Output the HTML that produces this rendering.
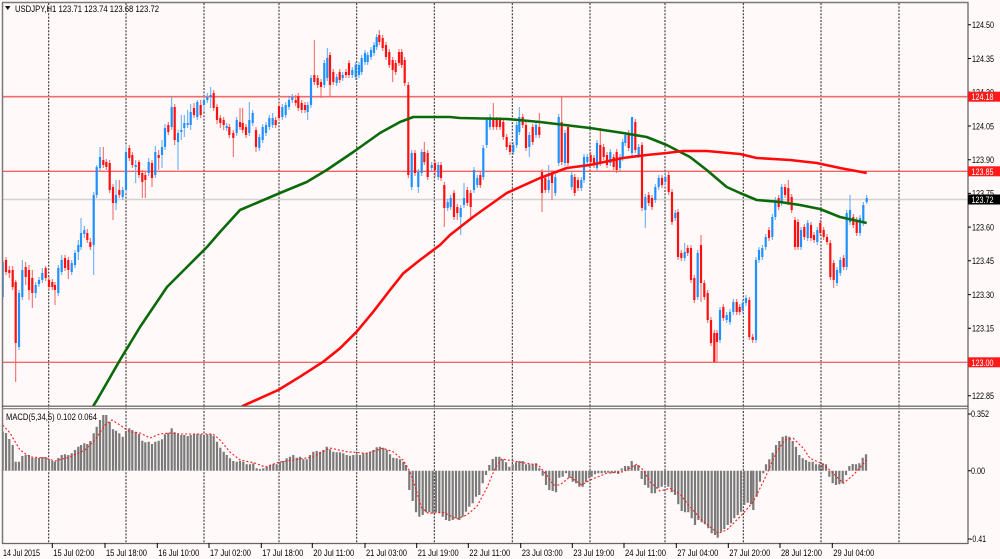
<!DOCTYPE html>
<html><head><meta charset="utf-8"><style>
html,body{margin:0;padding:0;background:#FFF9F9;}
svg{display:block;}
text{font-family:"Liberation Sans",sans-serif;font-size:9px;fill:#000;}
</style></head><body>
<svg width="1000" height="559" viewBox="0 0 1000 559" xmlns="http://www.w3.org/2000/svg">
<defs>
<clipPath id="cm"><rect x="3" y="3" width="965" height="403"/></clipPath>
<clipPath id="cs"><rect x="3" y="409" width="965" height="134"/></clipPath>
</defs>
<rect x="0" y="0" width="1000" height="559" fill="#FFF9F9"/>

<!-- grid dotted verticals -->
<g stroke="#222" stroke-width="1" stroke-dasharray="2,1.4">
<path d="M48.7 3V543 M126 3V543 M204 3V543 M279 3V543 M356.7 3V543 M434.3 3V543 M512.3 3V543 M590 3V543 M665 3V543 M743.3 3V543 M821 3V543 M899 3V543"/>
</g>

<!-- horizontal level lines -->
<path d="M3 96.7H968" stroke="#f26a6a" stroke-width="1.6"/>
<path d="M3 171.3H968" stroke="#ff2a2a" stroke-width="1"/>
<path d="M3 199.5H968" stroke="#d2d2d2" stroke-width="1.6"/>
<path d="M3 362.3H968" stroke="#f26a6a" stroke-width="1.3"/>

<g clip-path="url(#cm)" fill="none">
<!-- blue wicks -->
<path stroke="#5aa9f2" stroke-width="1" d="M2.7 257V300 M19 290V350 M22.3 260V300 M35.7 282V298 M39 277V287 M42.3 268V283 M58.3 265V296 M61.7 255V275 M71.7 260V275 M75 250V268 M78.3 240V260 M81 218V250 M84.3 226V238 M93.7 192V275 M96.7 165V198 M100 147V171 M116 180V210 M122.7 187V200 M126 146V193 M135.7 160V183 M148.7 158V176 M155.3 146V178 M162 140V168 M165 124V150 M171.7 97V130 M178 130V170 M181.3 115V140 M184.3 115V137 M187.7 110V128 M190.7 104V130 M197.3 100V120 M204 97V112 M207.3 93V103 M210.7 87V108 M226.7 123V131 M236.7 117V136 M249.3 102V136 M252.7 110V126 M259.3 134V151 M262.7 124V143 M266 122V136 M269.3 115V130 M272.7 113V128 M282.3 104V120 M285.7 102V118 M289 97V110 M292.3 94V103 M307.7 102V120 M311 75V108 M324.3 60V88 M327.3 48V81 M336.7 74V86 M342.7 72V81 M352.3 67V78 M355.7 62V80 M359 62V78 M361.7 55V75 M365 50V65 M367.7 52V65 M371 47V60 M374 42V56 M376.7 34V50 M411.7 150V190 M418.3 169V193 M421.7 149V176 M431.7 162V171 M438.3 162V180 M447.7 199V211 M450.7 195V210 M460.7 205V235 M464 183V208 M474 167V193 M477.3 175V188 M483.3 145V180 M486.7 117V148 M490 114V130 M513.3 142V155 M516.7 122V148 M519.3 107V135 M529.3 132V157 M536 122V138 M548.7 165V193 M555.3 174V196 M558.7 114V166 M565 130V166 M571.7 172V190 M581.3 177V191 M584 154V183 M587.3 154V165 M597 140V171 M610.3 149V166 M620 154V171 M622.7 139V161 M625.3 132V146 M632 117V156 M638.7 144V158 M645.3 194V228 M655.3 184V203 M658.7 175V190 M665.3 172V185 M675.3 210V221 M684.7 243V261 M697.7 250V300 M720 307V343 M726.7 312V323 M730 309V325 M733.3 299V315 M742.7 300V313 M746 295V306 M756 257V343 M759 247V263 M762.3 245V260 M765.7 234V250 M772.3 214V240 M775.3 197V220 M781.7 184V206 M801 227V250 M807.7 220V241 M817.3 227V245 M837 267V286 M840.3 257V276 M846.7 210V270 M850 195V225 M860 215V236 M863.3 202V226 M866.7 195V204"/>
<!-- red wicks -->
<path stroke="#f56060" stroke-width="1" d="M6 257V275 M9.3 266V278 M12.7 266V290 M15.7 280V382 M25.7 262V285 M29 265V300 M32.3 270V308 M45.7 266V281 M49 277V290 M52.3 279V290 M55 282V305 M65 255V271 M68.3 257V279 M87.3 229V243 M90.3 238V250 M103.3 147V168 M106.3 159V170 M109.7 160V193 M113 184V220 M119.3 180V198 M129.3 145V161 M132.3 152V168 M139 160V178 M142.3 170V198 M145.3 172V198 M152 160V187 M158.7 150V170 M168.3 122V135 M174.7 104V145 M194 103V118 M200.7 100V118 M213.7 90V111 M217 104V124 M220.3 115V128 M223.7 117V130 M229.3 124V138 M233.3 130V157 M240 108V130 M242.7 108V133 M246 124V138 M256 127V152 M275.7 117V128 M279 103V121 M295.7 95V106 M298.3 93V111 M301.7 100V113 M305 102V113 M314.3 40V85 M317.7 75V88 M321 79V98 M330 52V97 M333.3 69V85 M339.7 69V83 M346 69V78 M349 60V78 M379.3 30V45 M382.7 35V51 M386 42V60 M389.3 49V68 M392.7 57V82 M395.7 60V75 M399 49V66 M401.7 49V68 M404.7 57V86 M408.3 82V178 M415 150V176 M424.3 142V165 M427.7 150V180 M435 160V177 M441 162V181 M444.3 182V227 M454 190V220 M457.3 204V220 M467.3 187V206 M470.7 190V218 M480.3 172V188 M493.3 103V130 M496.7 117V130 M500 117V130 M503.3 119V140 M506.7 134V150 M510 142V155 M522.7 114V128 M526 122V151 M532.7 124V145 M539.3 113V138 M542 169V212 M545.3 175V193 M552 170V200 M561.7 97V165 M568 124V166 M574.7 174V196 M578 177V191 M590.7 152V165 M594 155V168 M600.3 128V166 M603.7 144V160 M607 152V168 M613.7 154V170 M616.7 149V173 M628.7 130V151 M635.3 119V153 M642 142V211 M648.7 192V206 M652 195V210 M662 175V188 M668.7 172V195 M672 189V225 M678 209V260 M681.3 250V261 M687.7 245V256 M691 245V283 M694.3 275V303 M701 235V302 M704.3 280V300 M707.7 290V323 M711 317V346 M714.3 330V362 M717 330V362 M723.3 304V321 M736.7 299V315 M739.7 304V315 M749.3 297V340 M752.7 334V343 M769 227V241 M778.7 195V210 M785 184V198 M788.3 180V205 M791.7 194V213 M795 217V250 M798 219V250 M804.3 224V240 M811 222V241 M814 232V243 M820.3 220V236 M823.7 227V240 M827 234V245 M830.3 240V280 M833.7 260V288 M843.7 255V270 M853.3 214V228 M856.7 217V236"/>
<!-- blue bodies -->
<path stroke="#1E90FF" stroke-width="2.2" d="M2.7 262V297 M19 293V347 M22.3 270V297 M35.7 285V293 M39 280V284 M42.3 273V280 M58.3 268V293 M61.7 260V272 M71.7 263V272 M75 253V265 M78.3 245V252 M81 233V247 M84.3 230V234 M93.7 195V245 M96.7 167V195 M100 157V168 M116 195V203 M122.7 190V197 M126 152V190 M135.7 165V167 M148.7 162V173 M155.3 152V175 M162 147V155 M165 128V147 M171.7 107V127 M178 133V142 M181.3 130V132 M184.3 123V128 M187.7 123V125 M190.7 112V125 M197.3 102V117 M204 100V105 M207.3 97V100 M210.7 95V97 M226.7 126V128 M236.7 120V133 M249.3 120V133 M252.7 113V123 M259.3 137V148 M262.7 127V140 M266 125V133 M269.3 118V127 M272.7 118V125 M282.3 107V117 M285.7 105V115 M289 100V107 M292.3 97V100 M307.7 105V112 M311 78V105 M324.3 63V85 M327.3 58V78 M336.7 77V83 M342.7 75V78 M352.3 70V75 M355.7 65V77 M359 65V75 M361.7 58V72 M365 53V62 M367.7 55V62 M371 50V57 M374 45V53 M376.7 37V47 M411.7 153V187 M418.3 172V187 M421.7 152V173 M431.7 165V168 M438.3 165V177 M447.7 202V208 M450.7 198V207 M460.7 208V217 M464 198V205 M474 170V190 M477.3 178V185 M483.3 148V177 M486.7 120V145 M490 117V127 M513.3 145V152 M516.7 125V145 M519.3 117V132 M529.3 135V147 M536 125V135 M548.7 180V190 M555.3 177V193 M558.7 117V163 M565 133V163 M571.7 175V187 M581.3 180V188 M584 157V180 M587.3 157V162 M597 143V168 M610.3 152V163 M620 157V168 M622.7 142V158 M625.3 135V143 M632 117V153 M638.7 147V155 M645.3 197V210 M655.3 187V200 M658.7 178V187 M665.3 177V182 M675.3 213V218 M684.7 252V258 M697.7 253V297 M720 310V340 M726.7 315V320 M730 312V322 M733.3 302V312 M742.7 303V310 M746 298V303 M756 260V340 M759 250V260 M762.3 248V257 M765.7 237V247 M772.3 217V237 M775.3 200V217 M781.7 187V203 M801 230V247 M807.7 223V238 M817.3 230V242 M837 270V283 M840.3 260V273 M846.7 213V267 M850 210V222 M860 218V233 M863.3 205V223 M866.7 198V202"/>
<!-- red bodies -->
<path stroke="#ff1010" stroke-width="2.2" d="M6 260V272 M9.3 270V273 M12.7 270V287 M15.7 282V343 M25.7 267V277 M29 270V290 M32.3 278V293 M45.7 268V278 M49 280V287 M52.3 282V287 M55 285V290 M65 258V268 M68.3 260V270 M87.3 233V240 M90.3 242V247 M103.3 160V165 M106.3 162V167 M109.7 163V190 M113 187V203 M119.3 190V195 M129.3 148V158 M132.3 155V165 M139 162V175 M142.3 173V182 M145.3 175V180 M152 163V178 M158.7 155V158 M168.3 125V132 M174.7 107V140 M194 108V115 M200.7 105V115 M213.7 93V108 M217 107V120 M220.3 118V123 M223.7 120V125 M229.3 127V135 M233.3 133V138 M240 122V127 M242.7 123V130 M246 127V135 M256 130V147 M275.7 120V125 M279 106V118 M295.7 100V103 M298.3 96V108 M301.7 103V110 M305 105V110 M314.3 75V82 M317.7 78V85 M321 82V87 M330 55V85 M333.3 72V82 M339.7 72V80 M346 72V75 M349 63V75 M379.3 35V42 M382.7 38V48 M386 45V57 M389.3 52V65 M392.7 60V70 M395.7 63V72 M399 52V63 M401.7 52V65 M404.7 60V83 M408.3 85V175 M415 153V173 M424.3 152V162 M427.7 153V177 M435 163V170 M441 165V178 M444.3 185V208 M454 193V217 M457.3 207V213 M467.3 190V203 M470.7 193V207 M480.3 175V185 M493.3 118V127 M496.7 120V127 M500 120V127 M503.3 122V137 M506.7 137V147 M510 145V152 M522.7 117V125 M526 125V148 M532.7 127V142 M539.3 127V135 M542 172V193 M545.3 178V190 M552 173V183 M561.7 122V162 M568 127V163 M574.7 177V193 M578 180V188 M590.7 155V162 M594 158V165 M600.3 145V163 M603.7 147V157 M607 155V165 M613.7 157V167 M616.7 152V170 M628.7 133V148 M635.3 122V150 M642 145V208 M648.7 195V203 M652 198V207 M662 178V185 M668.7 175V192 M672 192V222 M678 212V257 M681.3 253V258 M687.7 248V253 M691 248V280 M694.3 278V300 M701 245V283 M704.3 283V297 M707.7 293V320 M711 320V343 M714.3 333V362 M717 333V342 M723.3 307V318 M736.7 302V312 M739.7 307V312 M749.3 300V337 M752.7 337V340 M769 230V238 M778.7 198V207 M785 187V195 M788.3 188V202 M791.7 197V210 M795 220V247 M798 222V247 M804.3 227V237 M811 225V238 M814 235V240 M820.3 223V233 M823.7 230V237 M827 237V242 M830.3 243V277 M833.7 263V280 M843.7 258V267 M853.3 217V225 M856.7 220V233"/>
<!-- moving averages -->
<path stroke="#0a6a0a" stroke-width="2.6" stroke-linejoin="round" d="M92 408 L97 400 L120 360 L140 327 L167 287 L187 267 L207 247 L220 232 L240 210 L280 193 L306.7 182 L326.7 170 L353.3 152 L380 133 L400 122 L413.3 117 L450 117 L460 118 L506.7 119 L540 122 L590 128 L623 133 L646.7 137 L666.7 145 L690 157 L706.7 170 L726.7 187 L740 193 L756.7 200 L780 202 L800 205 L820 209 L840 217 L866.7 223"/>
<path stroke="#ff0a0a" stroke-width="2.6" stroke-linejoin="round" d="M240 408 L243.3 405.7 L278.3 390 L300 376.7 L323.3 361.7 L340 348.3 L356.7 331.7 L373.3 311.7 L390 290 L403.3 273.3 L420 260 L440 245 L450 235 L473 217 L506.7 193 L540 178 L566.7 168 L590 165 L623 158 L646.7 155 L666.7 153 L683 151 L706.7 151 L740 154 L756.7 158 L790 160 L816.7 163 L840 168 L866.7 173"/>
</g>

<!-- MACD histogram -->
<g clip-path="url(#cs)" fill="none">
<path stroke="#7a7a7a" stroke-width="2.2" d="M2.7 470.7V431.7 M6 470.7V433 M9.3 470.7V439 M12.7 470.7V445 M15.7 470.7V461.7 M19 470.7V461.7 M22.3 470.7V456 M25.7 470.7V455 M29 470.7V455 M32.3 470.7V458 M35.7 470.7V458 M39 470.7V458 M42.3 470.7V457 M45.7 470.7V457 M49 470.7V459 M52.3 470.7V461 M55 470.7V461.7 M58.3 470.7V458 M61.7 470.7V455 M65 470.7V454.3 M68.3 470.7V455 M71.7 470.7V453.3 M75 470.7V450 M78.3 470.7V446.7 M81 470.7V445 M84.3 470.7V443.3 M87.3 470.7V444 M90.3 470.7V441 M93.7 470.7V433.3 M96.7 470.7V426.7 M100 470.7V420 M103.3 470.7V415 M106.3 470.7V415 M109.7 470.7V421.7 M113 470.7V429.3 M116 470.7V430.7 M119.3 470.7V433.3 M122.7 470.7V436.7 M126 470.7V431 M129.3 470.7V428.3 M132.3 470.7V430 M135.7 470.7V431.7 M139 470.7V434 M142.3 470.7V440.7 M145.3 470.7V442.3 M148.7 470.7V441.7 M152 470.7V444 M155.3 470.7V441.7 M158.7 470.7V440.7 M162 470.7V439.3 M165 470.7V434.3 M168.3 470.7V432.7 M171.7 470.7V428.3 M174.7 470.7V432.3 M178 470.7V434.3 M181.3 470.7V435 M184.3 470.7V435 M187.7 470.7V436 M190.7 470.7V435 M194 470.7V434.3 M197.3 470.7V434 M200.7 470.7V434.3 M204 470.7V435 M207.3 470.7V434.3 M210.7 470.7V434.3 M213.7 470.7V436 M217 470.7V441.7 M220.3 470.7V447.7 M223.7 470.7V451.7 M226.7 470.7V455 M230 470.7V458.3 M233.3 470.7V461 M236.7 470.7V461.7 M240 470.7V461 M243.3 470.7V461.7 M246.7 470.7V464.3 M250 470.7V464.3 M253.3 470.7V463.3 M256.7 470.7V468.3 M260 470.7V469 M263.3 470.7V468.3 M266.7 470.7V466.7 M270 470.7V465 M273.3 470.7V464.3 M276.7 470.7V464.3 M280 470.7V461.7 M283.3 470.7V461 M286.7 470.7V458.3 M290 470.7V456.7 M293.3 470.7V455 M296.7 470.7V457.7 M300 470.7V456.7 M303.3 470.7V459.3 M306.7 470.7V459.3 M310 470.7V455 M313.3 470.7V451.7 M316.7 470.7V451 M320 470.7V451.7 M323.3 470.7V450 M326.7 470.7V446.7 M330 470.7V449.3 M333.3 470.7V451.7 M336.7 470.7V452.3 M340 470.7V452.3 M343.3 470.7V453.3 M346.7 470.7V455 M350 470.7V455.7 M353.3 470.7V455 M356.7 470.7V454.3 M360 470.7V455 M363.3 470.7V453.3 M366.7 470.7V452.7 M370 470.7V451.7 M373.3 470.7V450 M376.7 470.7V447.3 M380 470.7V446.7 M383.3 470.7V447.7 M386.7 470.7V450 M390 470.7V454.3 M393.3 470.7V457.7 M396.7 470.7V458.3 M400 470.7V459.3 M403.3 470.7V461.7 M406 470.7V465 M409.3 470.7V490 M412.7 470.7V501 M416 470.7V512.3 M419.3 470.7V516.7 M422.7 470.7V515 M426 470.7V512.3 M429.3 470.7V512.3 M432.7 470.7V513.3 M436 470.7V512.3 M439.3 470.7V513.3 M442.7 470.7V516.7 M446 470.7V520 M449.3 470.7V521 M452.7 470.7V520 M456 470.7V518.3 M459.3 470.7V520 M462.7 470.7V516.7 M466 470.7V511.7 M469.3 470.7V506.7 M472.7 470.7V503.3 M476 470.7V496.7 M479.3 470.7V495 M482.7 470.7V483.3 M486 470.7V475 M489.3 470.7V465 M492.7 470.7V459 M496 470.7V456.7 M499.3 470.7V456.7 M502.7 470.7V459.3 M506 470.7V462.3 M509.3 470.7V466.7 M512.7 470.7V464.3 M516 470.7V462.3 M519.3 470.7V461 M522.7 470.7V461 M526 470.7V464.3 M529.3 470.7V464.3 M532.7 470.7V464.3 M536 470.7V463.3 M539.3 470.7V468.3 M542.7 470.7V475.7 M546 470.7V485 M549.3 470.7V490 M552.7 470.7V491 M556 470.7V492.3 M559.3 470.7V477.7 M562.7 470.7V476.7 M566 470.7V473.3 M569.3 470.7V477.7 M572.7 470.7V481.7 M576 470.7V483.3 M579.3 470.7V486.7 M582.7 470.7V486.7 M586 470.7V482.3 M589.3 470.7V478.3 M591.7 470.7V476.7 M595 470.7V474.3 M598.3 470.7V473.3 M601.7 470.7V473.3 M605 470.7V472.7 M608.3 470.7V472.7 M611.7 470.7V473.3 M615 470.7V472.7 M618.3 470.7V474 M621.7 470.7V468.5 M625 470.7V466 M628.3 470.7V466 M631.7 470.7V461 M635 470.7V465 M638.3 470.7V465 M641.7 470.7V479 M645 470.7V485 M648.3 470.7V487.7 M651.7 470.7V493.3 M655 470.7V493.3 M658.3 470.7V488.3 M661.7 470.7V486.7 M665 470.7V485 M668.3 470.7V486.7 M671.7 470.7V492.3 M675 470.7V495 M678.3 470.7V504.3 M681.7 470.7V511 M685 470.7V512.3 M688.3 470.7V512.3 M691.7 470.7V518.3 M695 470.7V525 M698.3 470.7V520 M701.7 470.7V522.3 M705 470.7V524.3 M708.3 470.7V528.3 M711.7 470.7V533.3 M715 470.7V535 M717.7 470.7V537.7 M721 470.7V531.7 M724.3 470.7V529 M727.7 470.7V525 M731 470.7V523.3 M734.3 470.7V518.3 M737.7 470.7V515 M741 470.7V511.7 M744.3 470.7V505 M747.7 470.7V502.7 M751 470.7V504.3 M753.3 470.7V510 M756.7 470.7V496.7 M760 470.7V481.7 M763.3 470.7V473.3 M766 470.7V464.3 M769.3 470.7V459.3 M772.7 470.7V452.7 M776 470.7V445 M779.3 470.7V441 M782.7 470.7V436.7 M786 470.7V435.7 M789.3 470.7V436.7 M792.7 470.7V441 M796 470.7V446.7 M799.3 470.7V455 M802.7 470.7V458.3 M806 470.7V460 M809.3 470.7V461.7 M812.7 470.7V461.7 M816 470.7V464.3 M819.3 470.7V464.3 M822.7 470.7V463.3 M826 470.7V464.3 M829.3 470.7V476.7 M832.7 470.7V483.3 M836 470.7V485 M839.3 470.7V484.3 M842.7 470.7V483.3 M846 470.7V475 M849.3 470.7V466 M852.7 470.7V464 M856 470.7V464.3 M859.3 470.7V463.3 M862.7 470.7V457.7 M866 470.7V454.3"/>
<!-- signal -->
<path stroke="#ff1a1a" stroke-width="1.1" stroke-dasharray="2,2" d="M2.7 425 L10 433 L20 450 L30 457 L45 458 L55 461 L70 457 L85 450 L95 440 L105 425 L112 420 L120 425 L130 432 L140 433 L150 438 L160 434 L170 433 L180 434 L213 434 L220 440 L230 452 L240 460 L255 463 L265 467 L280 462 L313 457 L330 448 L346.7 451.7 L366.7 453.3 L383 448.3 L393 451.7 L403 460 L410 471.7 L416.7 491.7 L421.7 508 L428.3 513.3 L443.3 512.3 L456.7 519 L466.7 515 L476.7 506.7 L486.7 488.3 L495 468.3 L501.7 459 L513.3 461 L526.7 463.3 L538.3 465 L546.7 475 L553.3 485 L560 485 L570 476.7 L581.7 485 L590 480 L606.7 473.3 L623.3 471.7 L636.7 464.3 L643.3 470 L650 481.7 L660 491 L670 488.3 L680 494.3 L690 506.7 L703.3 521.7 L718.3 533.3 L726.7 530 L736.7 520 L743.3 513.3 L753.3 501.7 L763.3 481.7 L770 466.7 L776.7 451.7 L785 440 L793.3 438.3 L803.3 448.3 L810 458.3 L823.3 464.3 L833.3 473.3 L843.3 483.3 L853.3 475 L866.7 460"/>
</g>

<!-- frames -->
<g fill="none">
<path d="M2.5 2V544" stroke="#7a7a7a" stroke-width="1.5"/>
<path d="M2 2.5H968.5" stroke="#7a7a7a" stroke-width="1.5"/>
<path d="M968 2V544" stroke="#7a7a7a" stroke-width="1.5"/>
<path d="M2 406.2H968.5" stroke="#555" stroke-width="1.2"/>
<path d="M2 408.6H968.5" stroke="#888" stroke-width="1.2"/>
<path d="M2 543.5H968.5" stroke="#666" stroke-width="1.3"/>
</g>

<!-- price axis ticks -->
<path stroke="#000" stroke-width="1" d="M968 24.8H971 M968 58.5H971 M968 92.2H971 M968 126H971 M968 159.7H971 M968 193.4H971 M968 227.1H971 M968 260.8H971 M968 294.6H971 M968 328.3H971 M968 395.7H971 M968 414H971 M968 470.7H971 M968 539H971"/>
<text x="972" y="28" textLength="22" lengthAdjust="spacingAndGlyphs">124.50</text>
<text x="972" y="61.8" textLength="22" lengthAdjust="spacingAndGlyphs">124.35</text>
<text x="972" y="95.5" textLength="22" lengthAdjust="spacingAndGlyphs">124.20</text>
<text x="972" y="129.3" textLength="22" lengthAdjust="spacingAndGlyphs">124.05</text>
<text x="972" y="163" textLength="22" lengthAdjust="spacingAndGlyphs">123.90</text>
<text x="972" y="196.7" textLength="22" lengthAdjust="spacingAndGlyphs">123.75</text>
<text x="972" y="230.4" textLength="22" lengthAdjust="spacingAndGlyphs">123.60</text>
<text x="972" y="264.1" textLength="22" lengthAdjust="spacingAndGlyphs">123.45</text>
<text x="972" y="297.9" textLength="22" lengthAdjust="spacingAndGlyphs">123.30</text>
<text x="972" y="331.6" textLength="22" lengthAdjust="spacingAndGlyphs">123.15</text>
<text x="972" y="399" textLength="22" lengthAdjust="spacingAndGlyphs">122.85</text>

<!-- price boxes -->
<rect x="968" y="91.7" width="32" height="10" fill="#ff1a1a"/>
<text x="971.5" y="100.2" textLength="22" lengthAdjust="spacingAndGlyphs" style="fill:#fff">124.18</text>
<rect x="968" y="166.3" width="32" height="10" fill="#ff1a1a"/>
<text x="971.5" y="174.8" textLength="22" lengthAdjust="spacingAndGlyphs" style="fill:#fff">123.85</text>
<rect x="968" y="194.5" width="32" height="10" fill="#000"/>
<text x="971.5" y="203" textLength="22" lengthAdjust="spacingAndGlyphs" style="fill:#fff">123.72</text>
<rect x="968" y="357.3" width="32" height="10" fill="#ff1a1a"/>
<text x="971.5" y="365.8" textLength="22" lengthAdjust="spacingAndGlyphs" style="fill:#fff">123.00</text>

<!-- MACD scale -->
<text x="971" y="417.2" textLength="18" lengthAdjust="spacingAndGlyphs">0.352</text>
<text x="971" y="474" textLength="14" lengthAdjust="spacingAndGlyphs">0.00</text>
<text x="970" y="542" textLength="16" lengthAdjust="spacingAndGlyphs">-0.41</text>

<!-- titles -->
<polygon points="5,6 10.5,6 7.75,10" fill="#111"/>
<text x="15" y="12" textLength="144" lengthAdjust="spacingAndGlyphs">USDJPY,H1  123.71 123.74 123.68 123.72</text>
<text x="6" y="420" textLength="91" lengthAdjust="spacingAndGlyphs">MACD(5,34,5) 0.102 0.064</text>

<!-- time axis ticks -->
<path stroke="#000" stroke-width="1" d="M52.3 543V548 M105 543V548 M157.3 543V548 M209 543V548 M261.3 543V548 M312.3 543V548 M365 543V548 M416.7 543V548 M468.3 543V548 M520.7 543V548 M572.3 543V548 M624 543V548 M676.3 543V548 M728.3 543V548 M780 543V548 M832.3 543V548"/>
<text x="3" y="556" textLength="37" lengthAdjust="spacingAndGlyphs">14 Jul 2015</text>
<text x="53.3" y="556" textLength="41" lengthAdjust="spacingAndGlyphs">15 Jul 02:00</text>
<text x="106" y="556" textLength="41" lengthAdjust="spacingAndGlyphs">15 Jul 18:00</text>
<text x="158.3" y="556" textLength="41" lengthAdjust="spacingAndGlyphs">16 Jul 10:00</text>
<text x="210" y="556" textLength="41" lengthAdjust="spacingAndGlyphs">17 Jul 02:00</text>
<text x="262.3" y="556" textLength="41" lengthAdjust="spacingAndGlyphs">17 Jul 18:00</text>
<text x="313.3" y="556" textLength="41" lengthAdjust="spacingAndGlyphs">20 Jul 11:00</text>
<text x="366" y="556" textLength="41" lengthAdjust="spacingAndGlyphs">21 Jul 03:00</text>
<text x="417.7" y="556" textLength="41" lengthAdjust="spacingAndGlyphs">21 Jul 19:00</text>
<text x="469.3" y="556" textLength="41" lengthAdjust="spacingAndGlyphs">22 Jul 11:00</text>
<text x="521.7" y="556" textLength="41" lengthAdjust="spacingAndGlyphs">23 Jul 03:00</text>
<text x="573.3" y="556" textLength="41" lengthAdjust="spacingAndGlyphs">23 Jul 19:00</text>
<text x="625" y="556" textLength="41" lengthAdjust="spacingAndGlyphs">24 Jul 11:00</text>
<text x="677.3" y="556" textLength="41" lengthAdjust="spacingAndGlyphs">27 Jul 04:00</text>
<text x="729.3" y="556" textLength="41" lengthAdjust="spacingAndGlyphs">27 Jul 20:00</text>
<text x="781" y="556" textLength="41" lengthAdjust="spacingAndGlyphs">28 Jul 12:00</text>
<text x="833.3" y="556" textLength="41" lengthAdjust="spacingAndGlyphs">29 Jul 04:00</text>
</svg>
</body></html>
